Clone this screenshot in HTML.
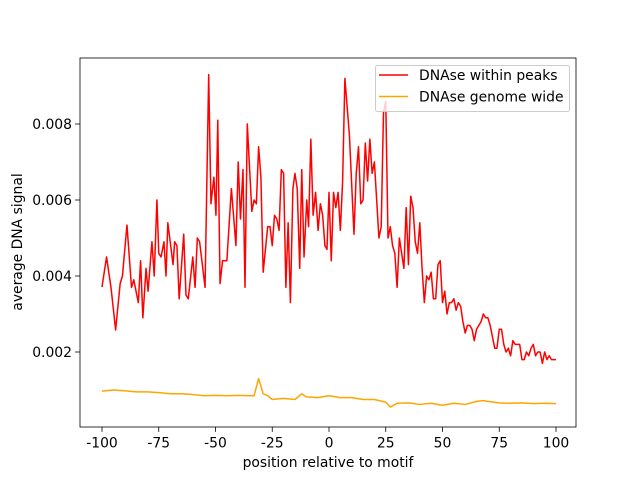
<!DOCTYPE html>
<html><head><meta charset="utf-8"><style>
body{margin:0;background:#fff}
svg{display:block;font-family:"DejaVu Sans","Liberation Sans",sans-serif}
</style></head><body>
<svg id="chart" width="640" height="480" viewBox="0 0 640 480" xmlns="http://www.w3.org/2000/svg">
<rect width="640" height="480" fill="#fff"/>
<g id="plot"></g>
</svg>
<script>
const redX=[-100,-98,-96,-94,-92,-91,-89,-87,-86,-84,-83,-82,-80.6,-79.7,-78,-77,-75.8,-75,-74,-72.7,-71.8,-71,-68.7,-68,-67,-66,-64,-63,-62,-60,-59,-58,-57,-54.6,-53,-52,-50.7,-49.8,-49,-48,-46.9,-45,-43,-41,-40,-39,-37.9,-37,-36,-34,-33,-32,-31,-30,-29,-27,-26,-25,-24,-23,-22,-21,-20,-19,-18,-17,-15.9,-15,-14,-12.9,-12,-11,-9.8,-9,-8,-7,-5.9,-4.8,-3.8,-2.8,-1.8,-0.9,0,1,2,3,4,5,6,7,9,11,12,13,14,15,16,17,18,19,20,21,22,23,24,25,26,27,28,29,30,31,32,33,34,35,36,37,38,39,40,41,42,43,44,45,46,47,48,49,50,51,52,53,54,55,56,57,58,59,60,61,62,63,64,65,66,67,68,69,70,71,72,73,74,75,76,77,78,79,80,81,82,83,84,85,86,87,88,89,90,91,92,93,94,95,96,97,98,100];
const redY=[0.00371,0.0045,0.00368,0.00258,0.0038,0.004,0.00534,0.0037,0.0039,0.0033,0.0044,0.0029,0.0042,0.0036,0.0049,0.004,0.006,0.0046,0.0045,0.0049,0.004,0.0054,0.0043,0.0049,0.0048,0.0034,0.0051,0.0035,0.0034,0.0045,0.0037,0.005,0.0049,0.0037,0.0093,0.0059,0.0066,0.0056,0.0081,0.0038,0.0044,0.0044,0.0063,0.0048,0.007,0.0055,0.0068,0.0037,0.008,0.0057,0.006,0.0059,0.0074,0.0066,0.0041,0.0053,0.0053,0.0048,0.0056,0.0055,0.0052,0.0068,0.0067,0.0037,0.0054,0.0033,0.0063,0.0067,0.0063,0.0042,0.0068,0.0045,0.006,0.0053,0.0076,0.0056,0.0062,0.0052,0.0059,0.0056,0.0048,0.0047,0.0062,0.0044,0.0062,0.0058,0.0062,0.0052,0.0065,0.0092,0.0077,0.0051,0.0067,0.0074,0.0059,0.006,0.0075,0.0065,0.0076,0.0067,0.007,0.006,0.005,0.0053,0.0083,0.0086,0.005,0.0053,0.0048,0.0046,0.0037,0.005,0.0046,0.0042,0.0058,0.0043,0.0061,0.0058,0.0049,0.0046,0.0054,0.0042,0.0033,0.004,0.0039,0.0041,0.0034,0.0034,0.0043,0.0044,0.0033,0.0036,0.003,0.0033,0.0033,0.0034,0.0031,0.0033,0.0032,0.0028,0.0025,0.0027,0.0027,0.0026,0.0023,0.0026,0.0027,0.0028,0.003,0.0029,0.0029,0.0027,0.0024,0.0021,0.0021,0.0026,0.0026,0.0022,0.002,0.0021,0.0019,0.0023,0.0022,0.0022,0.0022,0.0018,0.0018,0.002,0.0019,0.0021,0.0022,0.0019,0.002,0.002,0.0017,0.002,0.0018,0.0019,0.0018,0.0018];
const orangeX=[-100,-95,-90,-85,-80,-75,-70,-65,-60,-55,-50,-45,-40,-35,-33,-31,-29,-27,-25,-20,-15,-12,-10,-5,0,5,10,15,20,25,27,30,35,40,45,50,55,60,65,68,70,75,80,85,90,95,100];
const orangeY=[0.00097,0.001,0.00098,0.00095,0.00095,0.00093,0.0009,0.0009,0.00088,0.00085,0.00086,0.00085,0.00086,0.00085,0.00085,0.0013,0.0009,0.00085,0.00075,0.00078,0.00075,0.0009,0.00082,0.0008,0.00085,0.0008,0.0008,0.00075,0.00075,0.00068,0.00055,0.00065,0.00066,0.00062,0.00065,0.0006,0.00065,0.00062,0.0007,0.00072,0.0007,0.00066,0.00065,0.00066,0.00064,0.00065,0.00064];
const xTicks=[-100,-75,-50,-25,0,25,50,75,100];
const yTicks=[0.002,0.004,0.006,0.008];
const yTickLabels=["0.002","0.004","0.006","0.008"];

const FS=13.9;
const L=80,R=576,T=58,B=427;
const sx=v=>102+(v+100)*(556-102)/200;
const sy=v=>428-v*38000;
const NS="http://www.w3.org/2000/svg";
const g=document.getElementById('plot');
function mk(tag,attrs,parent){const e=document.createElementNS(NS,tag);for(const k in attrs)e.setAttribute(k,attrs[k]);(parent||g).appendChild(e);return e;}

function line(xs,ys,color,name){
  const p=mk('polyline',{points:xs.map((x,i)=>sx(x).toFixed(2)+','+sy(ys[i]).toFixed(2)).join(' '),fill:'none',stroke:color,'stroke-width':1.5,'stroke-linejoin':'round'});
  
  
}
line(orangeX,orangeY,'#ffa500','series-genome-wide');
line(redX,redY,'#ff0000','series-within-peaks');

const frame=mk('rect',{x:L,y:T,width:R-L,height:B-T,fill:'none',stroke:'#000','stroke-width':0.8});



xTicks.forEach(v=>{
  const x=sx(v);
  const t=mk('line',{x1:x,x2:x,y1:B,y2:B+4.9,stroke:'#000','stroke-width':0.8});
  
  
  const l=mk('text',{x:x,y:B+20.5,'font-size':FS,'text-anchor':'middle',fill:'#000'});
  l.textContent=v;
  
  
});
yTicks.forEach((v,i)=>{
  const y=sy(v);
  const t=mk('line',{x1:L-4.9,x2:L,y1:y,y2:y,stroke:'#000','stroke-width':0.8});
  
  
  const l=mk('text',{x:L-8,y:y+5,'font-size':FS,'text-anchor':'end',fill:'#000'});
  l.textContent=yTickLabels[i];
  
  
});
const xl=mk('text',{x:328,y:467,'font-size':FS,'text-anchor':'middle'});
xl.textContent='position relative to motif';


const yl=mk('text',{x:22,y:242,'font-size':FS,'text-anchor':'middle',transform:'rotate(-90 22 242)'});
yl.textContent='average DNA signal';



const lg=mk('g',{});


mk('rect',{x:375.5,y:65.5,width:194,height:46,rx:2,fill:'#fff','fill-opacity':0.8,stroke:'#ccc','stroke-width':1},lg);
mk('line',{x1:379,x2:408,y1:75,y2:75,stroke:'#ff0000','stroke-width':1.5},lg);
mk('line',{x1:379,x2:408,y1:96.5,y2:96.5,stroke:'#ffa500','stroke-width':1.5},lg);
const t1=mk('text',{x:419,y:80,'font-size':FS},lg);t1.textContent='DNAse within peaks';


const t2=mk('text',{x:419,y:101.5,'font-size':FS},lg);t2.textContent='DNAse genome wide';


</script>
</body></html>
